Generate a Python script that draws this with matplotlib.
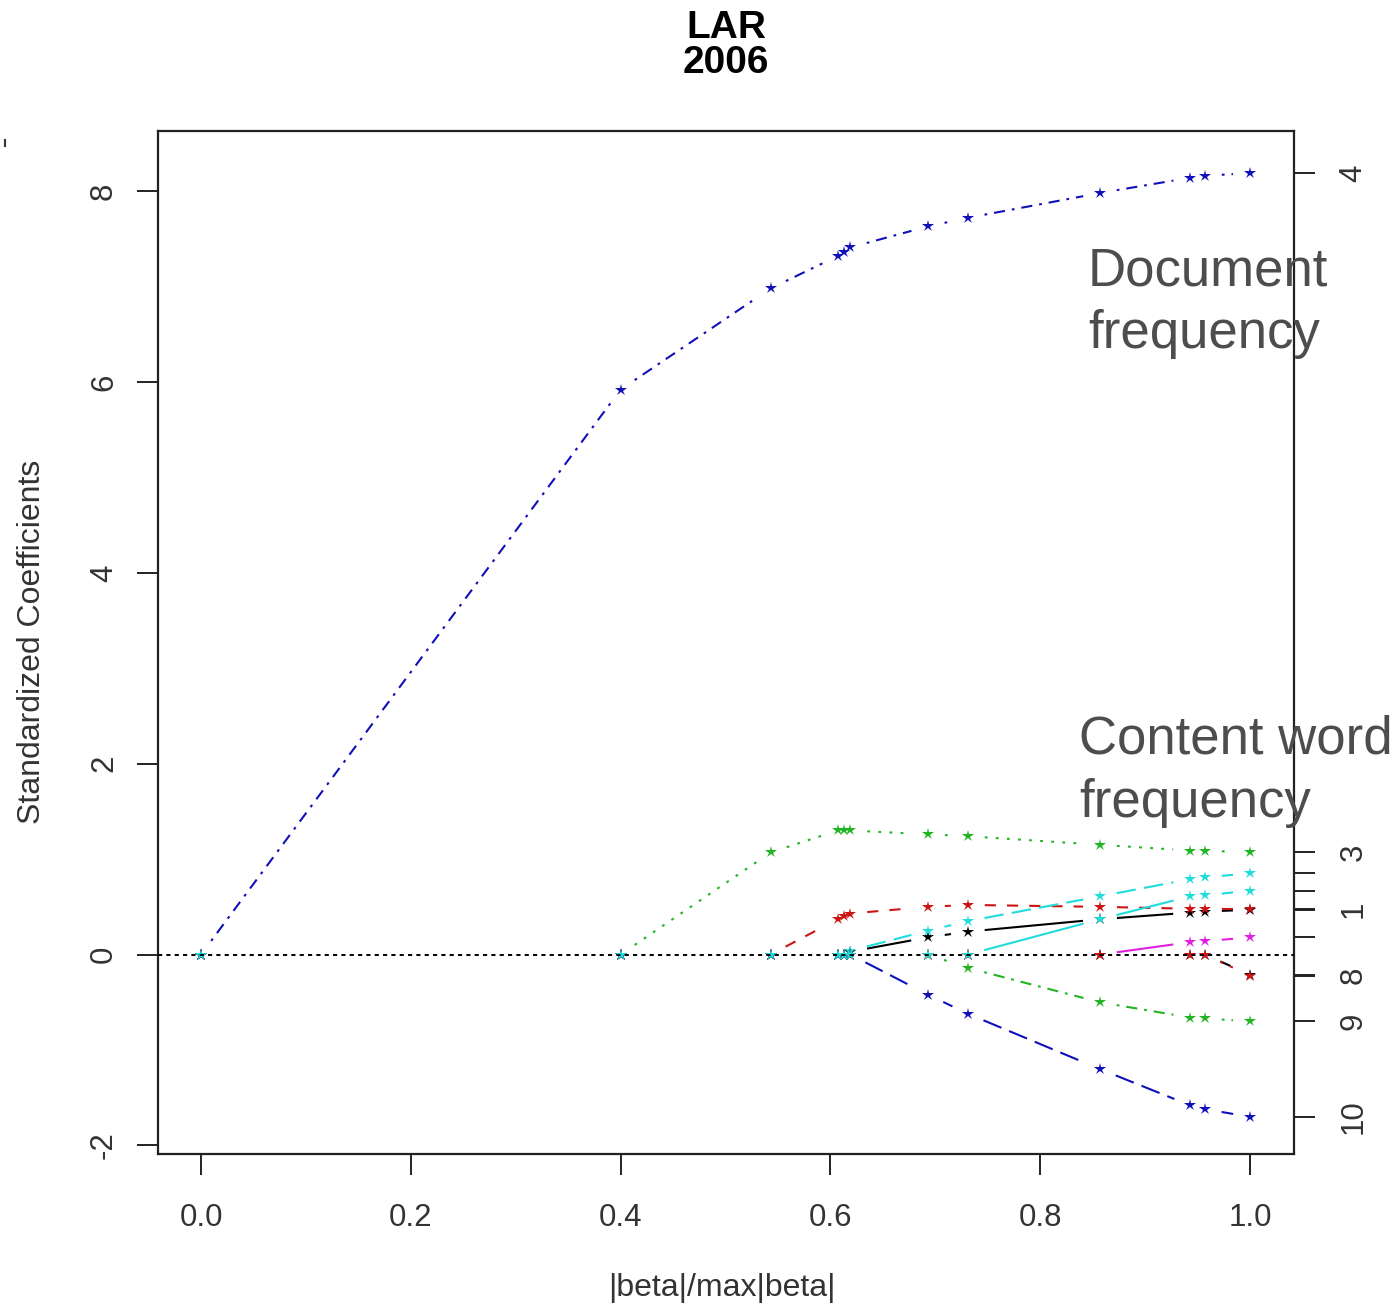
import numpy as np
import matplotlib
matplotlib.use("Agg")
import matplotlib.pyplot as plt
from matplotlib.lines import Line2D

plt.rcParams['font.family'] = ['Liberation Sans', 'DejaVu Sans']
plt.rcParams['lines.scale_dashes'] = False

# ---- data -------------------------------------------------------------
frac = [0.0, 0.400, 0.543, 0.607, 0.613, 0.619, 0.693, 0.731, 0.857, 0.943, 0.957, 1.0]

v1 = [0, 0, 0, 0, 0, 0.03, 0.18, 0.24, 0.37, 0.44, 0.45, 0.47]
v2 = [0, 0, 0, 0.37, 0.40, 0.43, 0.50, 0.52, 0.50, 0.48, 0.48, 0.48]
v3 = [0, 0, 1.07, 1.30, 1.30, 1.30, 1.26, 1.24, 1.15, 1.09, 1.09, 1.07]
v4 = [0, 5.92, 6.98, 7.32, 7.36, 7.41, 7.63, 7.72, 7.98, 8.14, 8.16, 8.19]
v5 = [0, 0, 0, 0, 0, 0.04, 0.25, 0.35, 0.61, 0.79, 0.81, 0.85]
v6 = [0, 0, 0, 0, 0, 0, 0, 0, 0, 0.13, 0.14, 0.18]
v7 = [0, 0, 0, 0, 0, 0, 0, 0, 0, 0, 0, -0.21]
v8 = [0, 0, 0, 0, 0, 0, 0, 0, 0, 0, 0, -0.22]
v9 = [0, 0, 0, 0, 0, 0, 0, -0.14, -0.50, -0.66, -0.67, -0.70]
v10 = [0, 0, 0, 0, 0, 0, -0.42, -0.62, -1.20, -1.58, -1.62, -1.70]
v11 = [0, 0, 0, 0, 0, 0, 0, 0, 0.37, 0.61, 0.62, 0.67]

coefs = [v1, v2, v3, v4, v5, v6, v7, v8, v9, v10, v11]
right_labels = ["1", "", "3", "4", "", "", "", "8", "9", "10", ""]

x_ticks = [0.0, 0.2, 0.4, 0.6, 0.8, 1.0]
x_ticklabels = ["0.0", "0.2", "0.4", "0.6", "0.8", "1.0"]
y_ticks = [-2, 0, 2, 4, 6, 8]
y_ticklabels = ["-2", "0", "2", "4", "6", "8"]

# ---- styles (R palette / lty cycling) ---------------------------------
palette = ['#000000', '#CC1414', '#22B422', '#1010B8', '#20DCDC', '#E020E0']
ltys = [None, (8, 8), (2, 6), (2, 5, 8, 5), (14, 6)]

W, H = 1399, 1306
fig = plt.figure(figsize=(W / 100, H / 100), dpi=100)
ax = fig.add_axes([158 / W, 1 - 1154 / H, (1294 - 158) / W, (1154 - 131) / H])
ax.set_xlim(-0.041, 1.042)
ax.set_ylim(-2.09, 8.63)

# zero reference line (drawn on top, like abline after matplot)
ax.axhline(0, color='black', lw=1.4, dashes=(3, 3), zorder=4)

fig.canvas.draw()
to_disp = ax.transData
to_data = ax.transData.inverted()
gap = 17.0  # pixel gap around points (R type="b")

xs = np.array(frac, dtype=float)
for i, c in enumerate(coefs):
    col = palette[i % 6]
    lty = ltys[i % 5]
    ys = np.array(c, dtype=float)
    pts = to_disp.transform(np.column_stack([xs, ys]))
    for k in range(len(xs) - 1):
        if ys[k] == 0 and ys[k + 1] == 0:
            continue
        p0, p1 = pts[k], pts[k + 1]
        d = p1 - p0
        L = np.hypot(*d)
        if L <= 2 * gap:
            continue
        u = d / L
        a = to_data.transform(p0 + u * gap)
        b = to_data.transform(p1 - u * gap)
        kw = dict(color=col, lw=1.5, solid_capstyle='butt', dash_capstyle='butt', zorder=2)
        if lty is not None:
            kw['dashes'] = lty
        ax.plot([a[0], b[0]], [a[1], b[1]], **kw)
    ax.plot(xs, ys, linestyle='none', marker='*', markersize=9, markeredgewidth=0,
            color=col, zorder=3)

# axes styling
for s in ax.spines.values():
    s.set_linewidth(1.6)
    s.set_color('#222222')

ax.set_xticks(x_ticks)
ax.set_xticklabels(x_ticklabels)
ax.set_yticks(y_ticks)
ax.set_yticklabels(y_ticklabels, rotation=90, va='center')
ax.tick_params(axis='both', length=15, width=1.4, color='#222222', labelsize=22.5,
               labelcolor='#333333')
ax.tick_params(axis='x', pad=20)
ax.tick_params(axis='y', pad=13)

# right axis: final coefficient values
ax2 = ax.twinx()
ax2.set_ylim(ax.get_ylim())
finals = [c[-1] for c in coefs]
ax2.set_yticks(finals)
ax2.set_yticklabels(right_labels, rotation=90, va='center')
ax2.tick_params(axis='y', length=15, width=1.4, color='#222222', labelsize=22.5,
                labelcolor='#333333', pad=17)
for s in ax2.spines.values():
    s.set_visible(False)

# labels and titles
fig.text(32 / W, 1 - 642 / H, "Standardized Coefficients", rotation=90,
         ha='center', va='center', fontsize=23, color='#333333')
fig.text(722 / W, 1 - 1288 / H, "|beta|/max|beta|", ha='center', va='center',
         fontsize=23, color='#333333')
fig.text(726 / W, 1 - 38 / H, "LAR", ha='center', va='baseline', fontsize=28,
         fontweight='bold')
fig.text(726 / W, 1 - 73 / H, "2006", ha='center', va='baseline', fontsize=28,
         fontweight='bold')

ann_col = '#4d4d4d'
fig.text(1088 / W, 1 - 285 / H, "Document", ha='left', va='baseline', fontsize=38,
         color=ann_col)
fig.text(1088 / W, 1 - 348 / H, "frequency", ha='left', va='baseline', fontsize=38,
         color=ann_col)
fig.text(1079 / W, 1 - 753 / H, "Content word", ha='left', va='baseline', fontsize=38,
         color=ann_col)
fig.text(1079 / W, 1 - 817 / H, "frequency", ha='left', va='baseline', fontsize=38,
         color=ann_col)

# small stray mark at top-left
fig.add_artist(Line2D([5 / W, 5 / W], [1 - 140 / H, 1 - 146 / H], color='#333333', lw=1.5))

fig.savefig("out.png", dpi=100)
